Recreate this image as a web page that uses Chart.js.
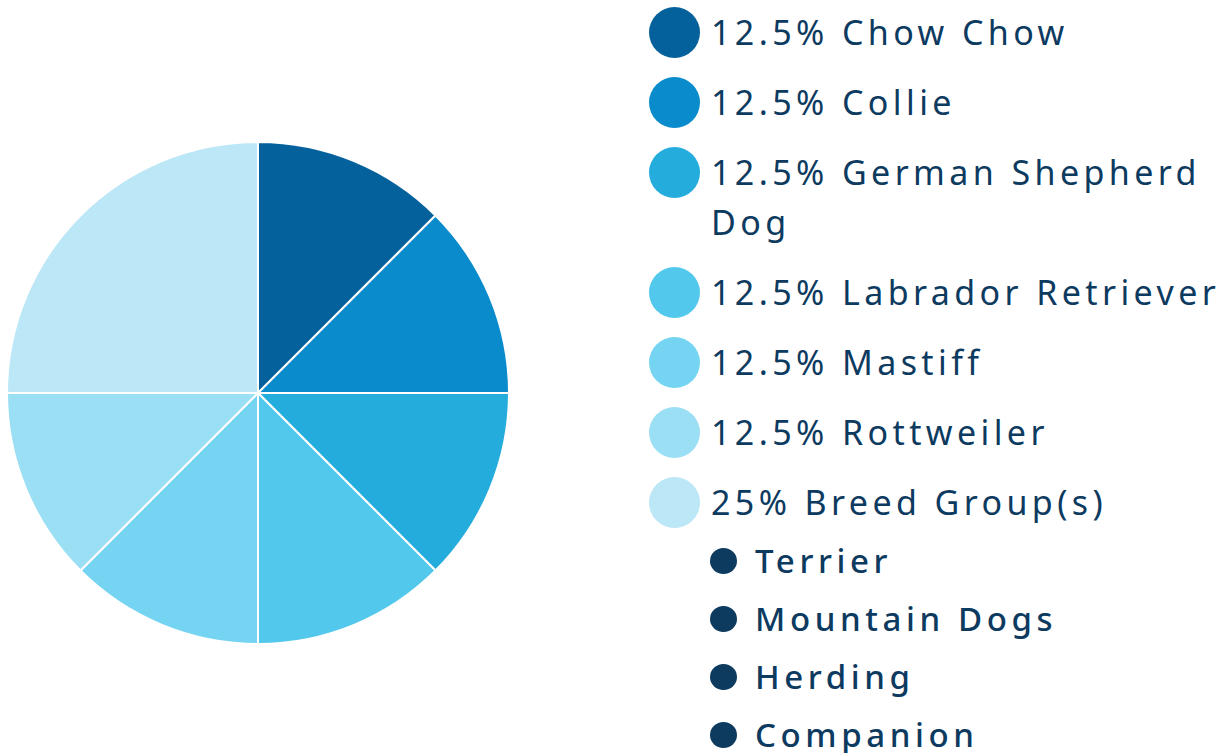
<!DOCTYPE html>
<html>
<head>
<meta charset="utf-8">
<script src="https://cdn.jsdelivr.net/npm/chart.js@4.4.1/dist/chart.umd.min.js"></script>
<style>
  html, body { margin: 0; padding: 0; background: #ffffff; width: 1226px; height: 753px; overflow: hidden; }
  #pieWrap { position: absolute; left: 6px; top: 141px; width: 504px; height: 504px; }
  #legend { position: absolute; left: 649px; top: 7px; width: 577px; font-family: "Noto Sans", sans-serif; color: #0d3a5f; }
  .item { display: flex; align-items: flex-start; margin-bottom: 20px; }
  .dot { flex: 0 0 51px; width: 51px; height: 51px; border-radius: 50%; margin-bottom: -1px; }
  .txt { margin-left: 11px; font-size: 34px; line-height: 50px; letter-spacing: 4.4px; max-width: 520px; }
  .sub { display: flex; align-items: center; height: 58px; margin-left: 61px; }
  .sub .b { flex: 0 0 27px; width: 27px; height: 26px; border-radius: 50%; background: #0d3a5f; }
  .sub .t { margin-left: 18px; font-size: 33px; font-weight: 500; letter-spacing: 4.6px; line-height: 58px; }
  #subs { margin-top: -15px; }
</style>
</head>
<body>
<div id="pieWrap"><canvas id="c"></canvas></div>
<div id="legend"></div>
<script>
const categories = ["Chow Chow", "Collie", "German Shepherd Dog", "Labrador Retriever", "Mastiff", "Rottweiler", "Breed Group(s)"];
const percentLabels = ["12.5%", "12.5%", "12.5%", "12.5%", "12.5%", "12.5%", "25%"];
const values = [12.5, 12.5, 12.5, 12.5, 12.5, 12.5, 25];
const colors = ["#05619b", "#0a8bcb", "#24acdd", "#51c8ec", "#74d4f2", "#9adff4", "#bbe7f7"];
const breedGroups = ["Terrier", "Mountain Dogs", "Herding", "Companion"];

new Chart(document.getElementById("c"), {
  type: "pie",
  data: {
    labels: categories,
    datasets: [{
      data: values,
      backgroundColor: colors,
      borderColor: "#ffffff",
      borderWidth: 2,
      hoverOffset: 0
    }]
  },
  options: {
    responsive: true,
    maintainAspectRatio: false,
    animation: false,
    layout: { padding: 0 },
    plugins: { legend: { display: false }, tooltip: { enabled: false } }
  }
});

const legend = document.getElementById("legend");
categories.forEach((c, i) => {
  const it = document.createElement("div");
  it.className = "item";
  const d = document.createElement("div");
  d.className = "dot";
  d.style.background = colors[i];
  const t = document.createElement("div");
  t.className = "txt";
  t.textContent = percentLabels[i] + " " + c;
  it.appendChild(d); it.appendChild(t);
  legend.appendChild(it);
});
const subs = document.createElement("div");
subs.id = "subs";
breedGroups.forEach(g => {
  const s = document.createElement("div");
  s.className = "sub";
  const b = document.createElement("div"); b.className = "b";
  const t = document.createElement("div"); t.className = "t"; t.textContent = g;
  s.appendChild(b); s.appendChild(t);
  subs.appendChild(s);
});
legend.appendChild(subs);
</script>
</body>
</html>
